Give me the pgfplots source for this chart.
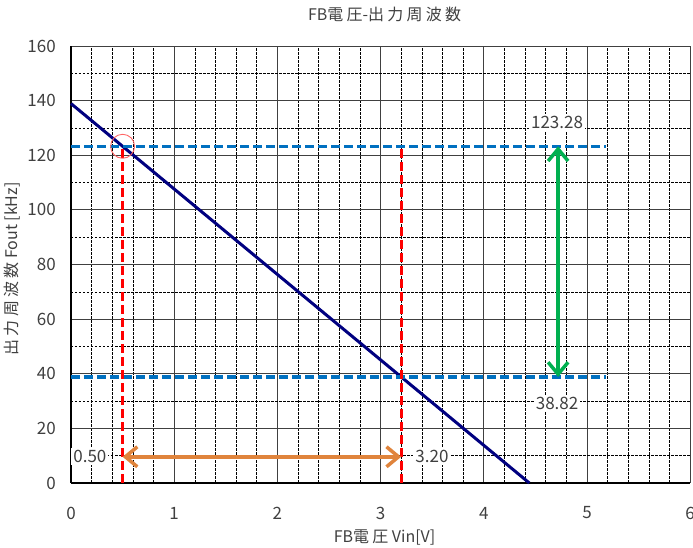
\documentclass[border=0pt]{standalone}
\usepackage{pgfplots}
\pgfplotsset{compat=1.18}
\usetikzlibrary{arrows.meta}
\usepackage{fontspec}
\setmainfont{Noto Sans CJK JP}
\newfontfamily\tfont[LetterSpace=20]{Noto Sans CJK JP}
\definecolor{txt}{HTML}{404040}
\definecolor{blu}{HTML}{0070C0}
\definecolor{grn}{HTML}{00B050}
\definecolor{org}{HTML}{E0843C}
\definecolor{nav}{HTML}{000080}
\begin{document}
\begin{tikzpicture}[x=1pt,y=1pt]
\path[use as bounding box] (-71,-65) rectangle (622,483);
\clip (-71,-65) rectangle (622,483);
\begin{axis}[
  scale only axis, width=619.2pt, height=437pt,
  xmin=0, xmax=6, ymin=0, ymax=160,
  xtick={0,1,...,6}, ytick={0,20,...,160},
  minor x tick num=4, minor y tick num=1,
  grid=both,
  major grid style={black!75, line width=0.8pt},
  minor grid style={black, line width=0.6pt, dash pattern=on 2.5pt off 1.5pt},
  major tick length=0pt, minor tick length=0pt,
  axis lines*=left, axis line style={-, black, line width=1.2pt},
  /pgf/number format/assume math mode=true,
  ticklabel style={font=\fontsize{17}{20}\selectfont, text=txt},
  yticklabel style={inner sep=0pt, anchor=east, xshift=-15pt},
  xticklabel style={inner sep=0pt, anchor=center, yshift=-30pt},
  title={FB{\tfont 電圧}-{\tfont 出力周波数}},
  title style={at={(axis description cs:0.5,1)}, anchor=center, yshift=26pt, xshift=4pt, font=\fontsize{16}{19}\selectfont, text=txt},
  xlabel={FB{\tfont 電圧} Vin[V]},
  xlabel style={at={(axis description cs:0.5,0)}, anchor=center, yshift=-54pt, xshift=4pt, font=\fontsize{16}{19}\selectfont, text=txt},
  ylabel={{\tfont 出力周波数} Fout [kHz]},
  ylabel style={at={(axis description cs:-0.0953,0.49)}, anchor=center, font=\fontsize{16}{19}\selectfont, text=txt},
  clip=false,
]
\addplot[nav, line width=3pt] coordinates {(0,138.92) (4.441,0)};
\addplot[blu, line width=3.5pt, dash pattern=on 9pt off 4pt] coordinates {(0,123.28) (5.18,123.28)};
\addplot[blu, line width=3.5pt, dash pattern=on 9pt off 4pt] coordinates {(0,38.82) (5.18,38.82)};
\addplot[red, line width=3pt, dash pattern=on 9pt off 4pt] coordinates {(0.5,0) (0.5,123.28)};
\addplot[red, line width=3pt, dash pattern=on 9pt off 4pt] coordinates {(3.2,0) (3.2,123.28)};
\addplot[grn, line width=3.5pt, {Straight Barb[length=12pt,width=20pt]}-{Straight Barb[length=12pt,width=20pt]}] coordinates {(4.72,38.82) (4.72,123.28)};
\addplot[org, line width=3.5pt, {Straight Barb[length=12pt,width=20pt]}-{Straight Barb[length=12pt,width=20pt]}] coordinates {(0.5,9.6) (3.2,9.6)};
\addplot[only marks, mark=o, mark size=12pt, mark options={draw=red!60, line width=0.9pt}] coordinates {(0.5,123.28)};
\node[fill=white, inner sep=2pt, anchor=east, text=txt, font=\fontsize{17}{20}\selectfont] at (axis cs:0.5,9.6) [xshift=-14pt] {0.50};
\node[fill=white, inner sep=2pt, anchor=west, text=txt, font=\fontsize{17}{20}\selectfont] at (axis cs:3.2,9.6) [xshift=12pt] {3.20};
\node[fill=white, inner sep=2pt, anchor=center, text=txt, font=\fontsize{17}{20}\selectfont] at (axis cs:4.71,132) {123.28};
\node[fill=white, inner sep=2pt, anchor=center, text=txt, font=\fontsize{17}{20}\selectfont] at (axis cs:4.71,29.3) {38.82};
\end{axis}
\end{tikzpicture}
\end{document}
